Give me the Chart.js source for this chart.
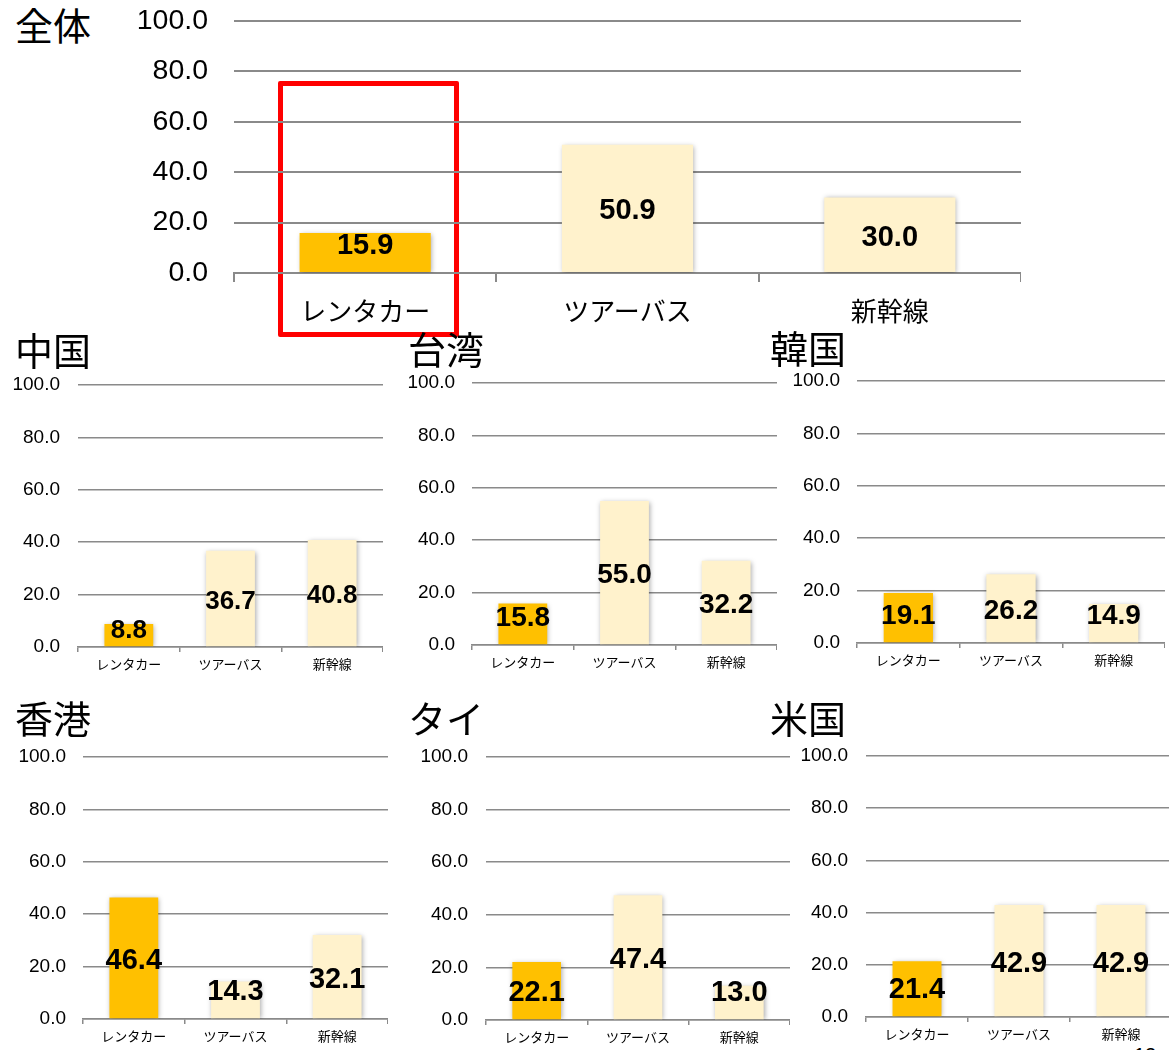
<!DOCTYPE html>
<html>
<head>
<meta charset="utf-8">
<script src="https://cdn.jsdelivr.net/npm/chart.js@4.4.1/dist/chart.umd.min.js"></script>
<style>
body{margin:0;background:#fff;overflow:hidden;width:1169px;height:1050px;position:relative}
.panel{position:absolute}
.titulo{position:absolute;font-family:"Noto Sans CJK JP",sans-serif;color:#000;white-space:nowrap}
#waku{position:absolute;left:278px;top:81px;width:181px;height:256px;border:5px solid #ff0000;box-sizing:border-box;border-radius:2px}
#pagina{position:absolute;left:1134px;top:1044px;font:20px "Liberation Sans",Arial,sans-serif;color:#000}
</style>
</head>
<body>
<div id="waku"></div>
<div id="pagina">12</div>
<script>
// datos
const categories = ['レンタカー', 'ツアーバス', '新幹線'];
const yTicks = [0, 20, 40, 60, 80, 100];
const regionNames = ['全体', '中国', '台湾', '韓国', '香港', 'タイ', '米国'];
const valuesZentai = [15.9, 50.9, 30.0];
const valuesChina = [8.8, 36.7, 40.8];
const valuesTaiwan = [15.8, 55.0, 32.2];
const valuesKorea = [19.1, 26.2, 14.9];
const valuesHongKong = [46.4, 14.3, 32.1];
const valuesThai = [22.1, 47.4, 13.0];
const valuesUS = [21.4, 42.9, 42.9];

const barColors = ['#FFC000', '#FFF2CC', '#FFF2CC'];
const gridColor = '#8a8a8a';
const fuenteNum = '"Liberation Sans", Arial, sans-serif';
const fuenteJp = '"Noto Sans CJK JP", sans-serif';

// posiciones de cada panel (area del grafico en px de la pagina)
const panels = [
  {name: regionNames[0], values: valuesZentai, L: 234, R: 1021, T: 21, B: 273, yW: 130, gap: 26, yFont: 28.5, xFont: 26, xH: 60, tickLen: 9, xPad: 14, valFont: 29, bar: 0.5, line: 2, tx: 15, tcy: 24, tSize: 38},
  {name: regionNames[1], values: valuesChina, L: 78, R: 383, T: 385, B: 647, yW: 72, gap: 18, yFont: 19, xFont: 13, xH: 30, tickLen: 5, xPad: 4, valFont: 26, bar: 0.48, line: 1.5, tx: 15, tcy: 349, tSize: 38},
  {name: regionNames[2], values: valuesTaiwan, L: 472, R: 777, T: 383, B: 645, yW: 72, gap: 17, yFont: 19, xFont: 13, xH: 30, tickLen: 5, xPad: 4, valFont: 28, bar: 0.48, line: 1.5, tx: 408, tcy: 348, tSize: 38},
  {name: regionNames[3], values: valuesKorea, L: 857, R: 1165, T: 381, B: 643, yW: 72, gap: 17, yFont: 19, xFont: 13, xH: 30, tickLen: 5, xPad: 4, valFont: 28, bar: 0.48, line: 1.5, tx: 770, tcy: 347, tSize: 38},
  {name: regionNames[4], values: valuesHongKong, L: 83, R: 388, T: 757, B: 1019, yW: 72, gap: 17, yFont: 19, xFont: 13, xH: 30, tickLen: 5, xPad: 4, valFont: 29, bar: 0.48, line: 1.5, tx: 15, tcy: 717, tSize: 38},
  {name: regionNames[5], values: valuesThai, L: 486, R: 790, T: 757, B: 1020, yW: 72, gap: 18, yFont: 19, xFont: 13, xH: 30, tickLen: 5, xPad: 4, valFont: 29, bar: 0.48, line: 1.5, tx: 408, tcy: 717, tSize: 38},
  {name: regionNames[6], values: valuesUS, L: 866, R: 1172, T: 756, B: 1017, yW: 72, gap: 18, yFont: 19, xFont: 13, xH: 30, tickLen: 5, xPad: 4, valFont: 29, bar: 0.48, line: 1.5, tx: 770, tcy: 717, tSize: 38}
];

// sombra de las barras y etiquetas de valor
const etiquetas = {
  id: 'etiquetas',
  beforeDatasetsDraw(chart) {
    const c = chart.ctx;
    c.save();
    c.shadowColor = 'rgba(0,0,0,0.35)';
    c.shadowBlur = 5;
    c.shadowOffsetX = 1;
    c.shadowOffsetY = 1;
  },
  afterDatasetsDraw(chart, args, opts) {
    const c = chart.ctx;
    c.restore();
    c.save();
    c.font = 'bold ' + opts.size + 'px ' + fuenteNum;
    c.fillStyle = '#000';
    c.textAlign = 'center';
    c.textBaseline = 'middle';
    const data = chart.data.datasets[0].data;
    chart.getDatasetMeta(0).data.forEach((bar, i) => {
      let y = Math.min((bar.y + bar.base) / 2, bar.base - 29);
      y = Math.max(y, bar.y + 4);
      c.fillText(data[i].toFixed(1), bar.x, y + 3);
    });
    c.restore();
  }
};

// quitar el relleno automatico de las escalas
function sinRelleno(s) {
  s.paddingTop = 0;
  s.paddingBottom = 0;
  s.paddingLeft = 0;
  s.paddingRight = 0;
}

const padTop = 18;
panels.forEach(p => {
  const div = document.createElement('div');
  div.className = 'panel';
  div.style.left = (p.L - p.yW) + 'px';
  div.style.top = (p.T - padTop) + 'px';
  div.style.width = (p.yW + p.R - p.L) + 'px';
  div.style.height = (padTop + p.B - p.T + p.xH) + 'px';
  const cv = document.createElement('canvas');
  div.appendChild(cv);
  document.body.appendChild(div);

  new Chart(cv, {
    type: 'bar',
    data: {
      labels: categories,
      datasets: [{
        data: p.values,
        backgroundColor: barColors,
        borderWidth: 0,
        barPercentage: p.bar,
        categoryPercentage: 1
      }]
    },
    options: {
      responsive: true,
      maintainAspectRatio: false,
      animation: false,
      layout: {padding: {top: padTop, left: 0, right: 0, bottom: 0}},
      plugins: {
        legend: {display: false},
        tooltip: {enabled: false},
        etiquetas: {size: p.valFont}
      },
      scales: {
        x: {
          grid: {display: true, offset: true, drawOnChartArea: false, drawTicks: true, tickLength: p.tickLen, color: gridColor, lineWidth: p.line},
          border: {display: true, color: gridColor, width: p.line},
          ticks: {color: '#000', padding: p.xPad, font: {family: fuenteJp, size: p.xFont}},
          afterFit: s => { s.height = p.xH; sinRelleno(s); }
        },
        y: {
          min: yTicks[0],
          max: yTicks[yTicks.length - 1],
          afterBuildTicks: s => { s.ticks = yTicks.map(v => ({value: v})); },
          grid: {color: gridColor, lineWidth: p.line, drawTicks: false},
          border: {display: false},
          ticks: {color: '#000', padding: p.gap, font: {family: fuenteNum, size: p.yFont}, callback: v => Number(v).toFixed(1)},
          afterFit: s => { s.width = p.yW; sinRelleno(s); }
        }
      }
    },
    plugins: [etiquetas]
  });

  const t = document.createElement('div');
  t.className = 'titulo';
  t.textContent = p.name;
  t.style.left = p.tx + 'px';
  t.style.fontSize = p.tSize + 'px';
  t.style.lineHeight = p.tSize + 'px';
  t.style.top = (p.tcy - p.tSize / 2) + 'px';
  document.body.appendChild(t);
});
</script>
</body>
</html>
